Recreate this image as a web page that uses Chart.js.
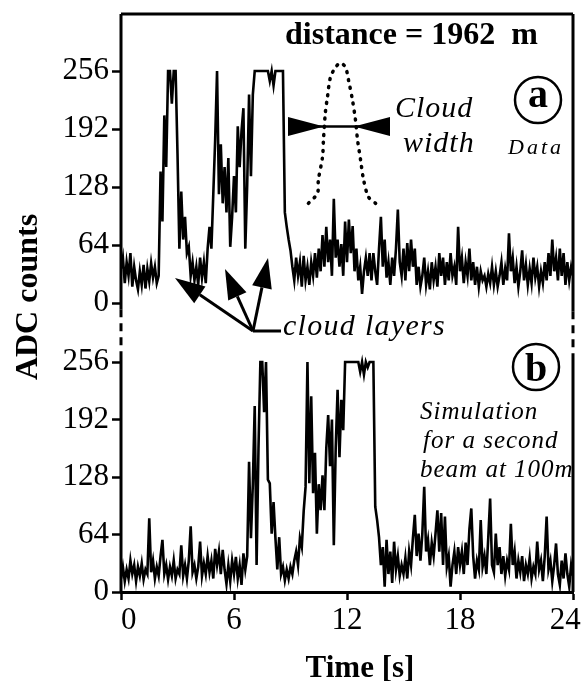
<!DOCTYPE html>
<html>
<head>
<meta charset="utf-8">
<script src="https://cdn.jsdelivr.net/npm/chart.js@4.4.1/dist/chart.umd.min.js"></script>
<style>
  body { margin: 0; background: #fff; }
  canvas { display: block; }
</style>
</head>
<body>
<canvas id="adcChart" width="583" height="681"></canvas>
<script>
// tick labels
const yTicks = [0, 64, 128, 192, 256];
const xTicks = [0, 6, 12, 18, 24];

// sample times [s], 0.1 s apart, shared by both traces
const timeS = [
  0, 0.1, 0.2, 0.3, 0.4, 0.5, 0.6, 0.7, 0.8, 0.9,
  1, 1.1, 1.2, 1.3, 1.4, 1.5, 1.6, 1.7, 1.8, 1.9,
  2, 2.1, 2.2, 2.3, 2.4, 2.5, 2.6, 2.7, 2.8, 2.9,
  3, 3.1, 3.2, 3.3, 3.4, 3.5, 3.6, 3.7, 3.8, 3.9,
  4, 4.1, 4.2, 4.3, 4.4, 4.5, 4.6, 4.7, 4.8, 4.9,
  5, 5.1, 5.2, 5.3, 5.4, 5.5, 5.6, 5.7, 5.8, 5.9,
  6, 6.1, 6.2, 6.3, 6.4, 6.5, 6.6, 6.7, 6.8, 6.9,
  7, 7.1, 7.2, 7.3, 7.4, 7.5, 7.6, 7.7, 7.8, 7.9,
  8, 8.1, 8.2, 8.3, 8.4, 8.5, 8.6, 8.7, 8.8, 8.9,
  9, 9.1, 9.2, 9.3, 9.4, 9.5, 9.6, 9.7, 9.8, 9.9,
  10, 10.1, 10.2, 10.3, 10.4, 10.5, 10.6, 10.7, 10.8, 10.9,
  11, 11.1, 11.2, 11.3, 11.4, 11.5, 11.6, 11.7, 11.8, 11.9,
  12, 12.1, 12.2, 12.3, 12.4, 12.5, 12.6, 12.7, 12.8, 12.9,
  13, 13.1, 13.2, 13.3, 13.4, 13.5, 13.6, 13.7, 13.8, 13.9,
  14, 14.1, 14.2, 14.3, 14.4, 14.5, 14.6, 14.7, 14.8, 14.9,
  15, 15.1, 15.2, 15.3, 15.4, 15.5, 15.6, 15.7, 15.8, 15.9,
  16, 16.1, 16.2, 16.3, 16.4, 16.5, 16.6, 16.7, 16.8, 16.9,
  17, 17.1, 17.2, 17.3, 17.4, 17.5, 17.6, 17.7, 17.8, 17.9,
  18, 18.1, 18.2, 18.3, 18.4, 18.5, 18.6, 18.7, 18.8, 18.9,
  19, 19.1, 19.2, 19.3, 19.4, 19.5, 19.6, 19.7, 19.8, 19.9,
  20, 20.1, 20.2, 20.3, 20.4, 20.5, 20.6, 20.7, 20.8, 20.9,
  21, 21.1, 21.2, 21.3, 21.4, 21.5, 21.6, 21.7, 21.8, 21.9,
  22, 22.1, 22.2, 22.3, 22.4, 22.5, 22.6, 22.7, 22.8, 22.9,
  23, 23.1, 23.2, 23.3, 23.4, 23.5, 23.6, 23.7, 23.8, 23.9,
  24
];

// (a) measured ADC counts
const countsA = [
  38, 50, 22, 45, 30, 55, 18, 40, 25, 15,
  35, 20, 42, 16, 38, 24, 44, 28, 40, 22,
  30, 145, 90, 207, 150, 256, 256, 220, 256, 256,
  165, 60, 123, 70, 95, 55, 62, 30, 45, 25,
  40, 20, 50, 28, 45, 22, 60, 84, 60, 120,
  180, 256, 120, 175, 110, 150, 100, 160, 62, 95,
  140, 100, 195, 150, 190, 215, 60, 130, 230, 140,
  230, 256, 256, 256, 256, 256, 256, 256, 256, 245,
  256, 240, 256, 256, 256, 256, 256, 100, 84, 70,
  58, 40, 25, 50, 30, 45, 18, 52, 25, 40,
  20, 45, 30, 55, 28, 60, 35, 75, 40, 84,
  45, 70, 30, 115, 50, 70, 40, 65, 30, 90,
  45, 92, 55, 85, 35, 60, 25, 40, 10, 35,
  50, 30, 55, 25, 55, 35, 20, 60, 95, 40,
  70, 28, 45, 20, 50, 30, 60, 103, 45, 30,
  60, 25, 66, 35, 70, 40, 60, 20, 40, 18,
  30, 50, 20, 35, 15, 45, 25, 40, 18, 55,
  30, 50, 20, 45, 25, 55, 30, 40, 20, 84,
  35, 50, 22, 45, 30, 60, 25, 45, 20, 40,
  18, 35, 25, 30, 18, 32, 22, 40, 20, 35,
  18, 30, 45, 20, 38, 25, 77, 35, 50, 22,
  40, 18, 35, 58, 25, 42, 20, 38, 22, 50,
  28, 40, 18, 35, 22, 45, 25, 55, 30, 70,
  35, 50, 25, 60, 30, 55, 20, 45, 25, 40,
  30
];

// (b) simulated ADC counts, second beam at 100 m
const countsB = [
  15, 28, 12, 25, 15, 35, 20, 30, 12, 28,
  18, 32, 14, 25, 20, 82, 22, 35, 15, 28,
  18, 40, 58, 20, 30, 14, 28, 18, 35, 15,
  25, 20, 52, 18, 30, 15, 35, 73, 22, 30,
  15, 28, 56, 18, 32, 20, 40, 22, 35, 15,
  48, 30, 45, 20, 47, 25, 9, 30, 12, 35,
  20, 39, 15, 30, 8, 43, 25, 40, 145, 60,
  120, 207, 30, 160, 256, 256, 200, 256, 125, 121,
  65, 100, 60, 25, 61, 20, 28, 13, 25, 15,
  28, 20, 35, 45, 30, 60, 50, 90, 117, 256,
  121, 218, 110, 155, 65, 120, 91, 130, 91, 160,
  197, 140, 192, 52, 160, 225, 150, 214, 180, 256,
  256, 256, 256, 256, 256, 256, 256, 245, 256, 242,
  256, 250, 256, 256, 256, 95, 80, 61, 30, 50,
  6, 58, 20, 45, 10, 56, 25, 40, 18, 30,
  20, 38, 15, 45, 30, 60, 86, 40, 65, 35,
  65, 117, 45, 58, 30, 55, 40, 65, 91, 45,
  88, 30, 84, 28, 40, 6, 30, 45, 20, 50,
  30, 45, 20, 55, 30, 70, 93, 40, 15, 35,
  25, 80, 28, 40, 20, 60, 104, 30, 22, 65,
  30, 50, 20, 40, 18, 35, 25, 76, 30, 45,
  15, 35, 22, 40, 12, 30, 20, 38, 15, 28,
  20, 56, 25, 35, 12, 40, 84, 25, 35, 12,
  30, 54, 20, 8, 35, 15, 43, 20, 6, 30,
  18
];

// dotted cloud-profile sketch in panel (a)
const cloudT = [9.95, 10.43, 10.48, 10.7, 10.75, 10.85, 10.96, 11.12, 11.39, 11.65,
                11.92, 12.08, 12.29, 12.45, 12.56, 12.72, 12.88, 13.14, 13.52];
const cloudV = [110, 121, 136, 161, 180, 210, 227, 249, 260, 265,
                260, 246, 224, 202, 180, 158, 136, 117, 110];

const SERIF = "'Liberation Serif', 'Times New Roman', serif";

function pairs(xs, ys) {
    return xs.map((x, i) => ({ x: x, y: ys[i] }));
}

function fixTicks(values) {
    return scale => { scale.ticks = values.map(v => ({ value: v })); };
}

function noPadding(size, prop) {
    return scale => {
        scale[prop] = size;
        scale.paddingLeft = 0; scale.paddingRight = 0;
        scale.paddingTop = 0; scale.paddingBottom = 0;
    };
}

function yAxis(weight, min, max) {
    return {
        type: 'linear',
        position: 'left',
        stack: 'panels',
        stackWeight: weight,
        min: min,
        max: max,
        afterBuildTicks: fixTicks(yTicks),
        afterFit: noPadding(121, 'width'),
        border: { display: false },
        grid: { drawOnChartArea: false, color: '#000', tickLength: 9, tickWidth: 2.5 },
        ticks: { color: '#000', padding: 3, autoSkip: false, font: { family: SERIF, size: 31 } }
    };
}

function arrow(ctx, x0, y0, x1, y1) {
    const len = 30, half = 10;
    const a = Math.atan2(y1 - y0, x1 - x0);
    const bx = x1 - len * Math.cos(a), by = y1 - len * Math.sin(a);
    ctx.beginPath();
    ctx.moveTo(x0, y0);
    ctx.lineTo(bx, by);
    ctx.stroke();
    ctx.beginPath();
    ctx.moveTo(x1, y1);
    ctx.lineTo(bx + half * Math.sin(a), by - half * Math.cos(a));
    ctx.lineTo(bx - half * Math.sin(a), by + half * Math.cos(a));
    ctx.closePath();
    ctx.fill();
}

function text(ctx, str, x, y, font, spacing) {
    ctx.font = font;
    ctx.letterSpacing = (spacing || 0) + 'px';
    ctx.fillText(str, x, y);
}

// frame with the dashed break, titles and the hand-drawn notes
const notesPlugin = {
    id: 'notes',
    afterDraw(chart) {
        const ctx = chart.ctx;
        const { left, right, top, bottom } = chart.chartArea;
        const yA = chart.scales.yA, yB = chart.scales.yB;
        const breakTop = yA.getPixelForValue(-7);
        const breakBot = yB.getPixelForValue(256) - 8;

        ctx.save();
        ctx.strokeStyle = '#000';
        ctx.fillStyle = '#000';
        ctx.lineWidth = 3;

        ctx.beginPath();
        ctx.moveTo(left, top); ctx.lineTo(right, top);
        ctx.moveTo(left, top); ctx.lineTo(left, breakTop);
        ctx.moveTo(left, breakBot); ctx.lineTo(left, bottom);
        ctx.moveTo(right, top); ctx.lineTo(right, breakTop + 2);
        ctx.moveTo(right, breakBot); ctx.lineTo(right, bottom);
        ctx.stroke();
        ctx.setLineDash([8, 6]);
        ctx.beginPath();
        ctx.moveTo(left, breakTop); ctx.lineTo(left, breakBot);
        ctx.moveTo(right, breakTop + 2); ctx.lineTo(right, breakBot);
        ctx.stroke();
        ctx.setLineDash([]);

        // axis titles
        ctx.textBaseline = 'alphabetic';
        ctx.textAlign = 'center';
        text(ctx, 'Time [s]', 360, 677, 'bold 31px ' + SERIF);
        ctx.save();
        ctx.translate(37, 297);
        ctx.rotate(-Math.PI / 2);
        text(ctx, 'ADC counts', 0, 0, 'bold 32px ' + SERIF);
        ctx.restore();

        ctx.textAlign = 'left';
        text(ctx, 'distance = 1962  m', 285, 44, 'bold 32px ' + SERIF);

        // panel markers
        ctx.lineWidth = 2.5;
        ctx.beginPath(); ctx.arc(538, 100, 23, 0, 2 * Math.PI); ctx.stroke();
        ctx.beginPath(); ctx.arc(536, 367, 23, 0, 2 * Math.PI); ctx.stroke();
        ctx.textAlign = 'center';
        text(ctx, 'a', 538, 107, 'bold 40px ' + SERIF);
        text(ctx, 'b', 536, 381, 'bold 40px ' + SERIF);

        ctx.textAlign = 'left';
        text(ctx, 'Data', 508, 154, 'italic 22px ' + SERIF, 3);
        text(ctx, 'Cloud', 395, 117, 'italic 30px ' + SERIF, 1);
        text(ctx, 'width', 403, 152, 'italic 30px ' + SERIF, 1);

        ctx.save();
        ctx.beginPath();
        ctx.rect(left, top, right - left, bottom - top);
        ctx.clip();
        text(ctx, 'Simulation', 420, 419, 'italic 25px ' + SERIF, 1);
        text(ctx, 'for a second', 423, 448, 'italic 25px ' + SERIF, 1);
        text(ctx, 'beam at 100m', 420, 477, 'italic 25px ' + SERIF, 1);
        ctx.restore();

        // cloud width bow-tie
        ctx.beginPath();
        ctx.moveTo(288, 126.5); ctx.lineTo(390, 126.5);
        ctx.stroke();
        ctx.beginPath();
        ctx.moveTo(288, 117); ctx.lineTo(288, 136); ctx.lineTo(324, 126.5); ctx.closePath();
        ctx.moveTo(390, 117); ctx.lineTo(390, 136); ctx.lineTo(354, 126.5); ctx.closePath();
        ctx.fill();

        // cloud layer arrows
        ctx.lineWidth = 3;
        arrow(ctx, 253, 331, 175, 278);
        arrow(ctx, 253, 331, 225, 269);
        arrow(ctx, 253, 331, 268, 258);
        ctx.beginPath();
        ctx.moveTo(253, 331); ctx.lineTo(281, 331);
        ctx.stroke();
        text(ctx, 'cloud layers', 283, 335, 'italic 30px ' + SERIF, 1.3);

        ctx.restore();
    }
};

new Chart(document.getElementById('adcChart').getContext('2d'), {
    type: 'line',
    data: {
        datasets: [
            {
                label: 'Simulation',
                data: pairs(timeS, countsB),
                yAxisID: 'yB',
                borderColor: '#000',
                borderWidth: 2.6,
                pointRadius: 0,
                tension: 0
            },
            {
                label: 'Data',
                data: pairs(timeS, countsA),
                yAxisID: 'yA',
                borderColor: '#000',
                borderWidth: 2.6,
                pointRadius: 0,
                tension: 0
            },
            {
                label: 'Cloud width',
                data: pairs(cloudT, cloudV),
                yAxisID: 'yA',
                borderColor: '#000',
                borderWidth: 3.5,
                borderDash: [1, 7],
                borderCapStyle: 'round',
                pointRadius: 0,
                tension: 0.3
            }
        ]
    },
    options: {
        responsive: false,
        animation: false,
        layout: { padding: { left: 0, right: 10, top: 14, bottom: 0 } },
        plugins: { legend: { display: false }, tooltip: { enabled: false } },
        scales: {
            x: {
                type: 'linear',
                min: 0,
                max: 24,
                afterBuildTicks: fixTicks(xTicks),
                afterFit: noPadding(89, 'height'),
                border: { display: true, color: '#000', width: 3 },
                grid: { drawOnChartArea: false, color: '#000', tickLength: 8, tickWidth: 2.5 },
                ticks: {
                    color: '#000', padding: 2, maxRotation: 0, autoSkip: false,
                    font: { family: SERIF, size: 31 },
                    // the end labels sit slightly inside the frame
                    callback: v => v === 24 ? '24\u2002' : (v === 0 ? '\u2008\u20080' : String(v))
                }
            },
            // stacked: the later axis is placed on top
            yB: yAxis(259, 0, 288.3),
            yA: yAxis(319, -33.1, 318.9)
        }
    },
    plugins: [notesPlugin]
});
</script>
</body>
</html>
